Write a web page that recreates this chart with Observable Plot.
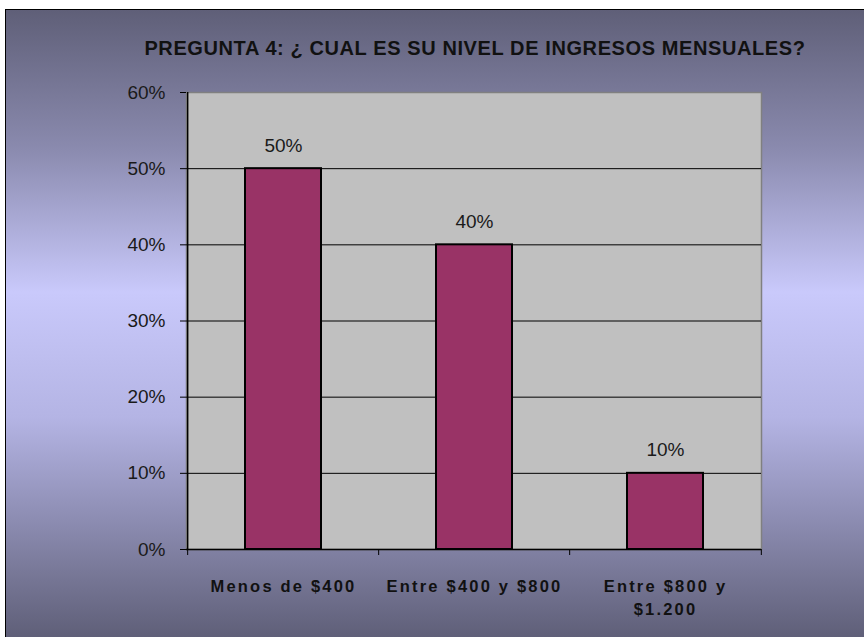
<!DOCTYPE html>
<html>
<head>
<meta charset="utf-8">
<script src="https://cdn.jsdelivr.net/npm/d3@7"></script>
<script src="https://cdn.jsdelivr.net/npm/@observablehq/plot@0.6"></script>
<style>
  html, body { margin: 0; padding: 0; background: #fff; overflow: hidden; }
  #box {
    position: absolute; left: 5px; top: 9px; width: 858px; height: 627px;
    border-left: 1px solid #000; border-top: 1px solid #000;
    background: linear-gradient(to bottom, #5f5f78 0%, #8a8aae 22%, #c9c9fb 45%, #b4b4e4 65%, #5f5f78 100%);
    font-family: "Liberation Sans", Arial, sans-serif;
  }
  #title {
    position: absolute; left: 0; width: 938px; top: 27px; text-align: center;
    font-weight: bold; font-size: 20px; color: #111; letter-spacing: 0.6px;
  }
  #chart { position: absolute; left: 0; top: 0; }
  g[aria-label="x-axis tick label"] text { letter-spacing: 2.2px; }
</style>
</head>
<body>
<div id="box">
  <div id="title">PREGUNTA 4: ¿ CUAL ES SU NIVEL DE INGRESOS MENSUALES?</div>
  <div id="chart"></div>
</div>
<script>
const categories = ["Menos de $400", "Entre $400 y $800", "Entre $800 y\n$1.200"];
const values = [0.50, 0.40, 0.10];
const yTicks = [0, 0.1, 0.2, 0.3, 0.4, 0.5, 0.6];
const gridTicks = [0.1, 0.2, 0.3, 0.4, 0.5];

const data = categories.map((c, i) => ({category: c, value: values[i]}));

const W = 858, H = 627, ML = 180, MR = 103, MT = 82, MB = 88;
const step = (W - ML - MR) / categories.length;
const pct = d3.format(".0%");

const chart = Plot.plot({
  width: W, height: H,
  marginLeft: ML, marginRight: MR, marginTop: MT, marginBottom: MB,
  style: {background: "transparent", fontFamily: "'Liberation Sans', Arial, sans-serif", fontSize: "19px", color: "#1a1a1a", overflow: "visible"},
  x: {domain: categories, paddingInner: 0.604, paddingOuter: 0.302, label: null},
  y: {type: "linear", domain: [0, 0.6], label: null},
  marks: [
    Plot.frame({fill: "#c0c0c0", stroke: "#808080", strokeWidth: 1.5}),
    Plot.gridY(gridTicks, {stroke: "#000", strokeOpacity: 1, strokeWidth: 1}),
    Plot.ruleY([0], {stroke: "#000", strokeWidth: 1.5}),
    Plot.ruleX([categories[0]], {dx: -step / 2, y1: 0, y2: 0.6, stroke: "#000", strokeWidth: 1.5}),
    Plot.axisY({ticks: yTicks, tickFormat: pct, tickSize: 6, tickPadding: 15, stroke: "#000", fontSize: 19, fill: "#1a1a1a"}),
    Plot.ruleX(categories, {x: d => d, dx: -step / 2, y1: 0, y2: 0, insetBottom: -6, stroke: "#000", strokeWidth: 1}),
    Plot.ruleX([categories[categories.length - 1]], {x: d => d, dx: step / 2, y1: 0, y2: 0, insetBottom: -6, stroke: "#000", strokeWidth: 1}),
    Plot.barY(data, {x: "category", y: "value", fill: "#993366", stroke: "#000", strokeWidth: 2}),
    Plot.text(data, {x: "category", y: "value", text: d => pct(d.value), dy: -23, fontSize: 19, fill: "#1a1a1a"}),
    Plot.axisX({tickSize: 0, tickPadding: 26, fontSize: 16.5, fontWeight: "bold", fill: "#111", lineHeight: 1.4})
  ]
});
document.getElementById("chart").appendChild(chart);
</script>
</body>
</html>
